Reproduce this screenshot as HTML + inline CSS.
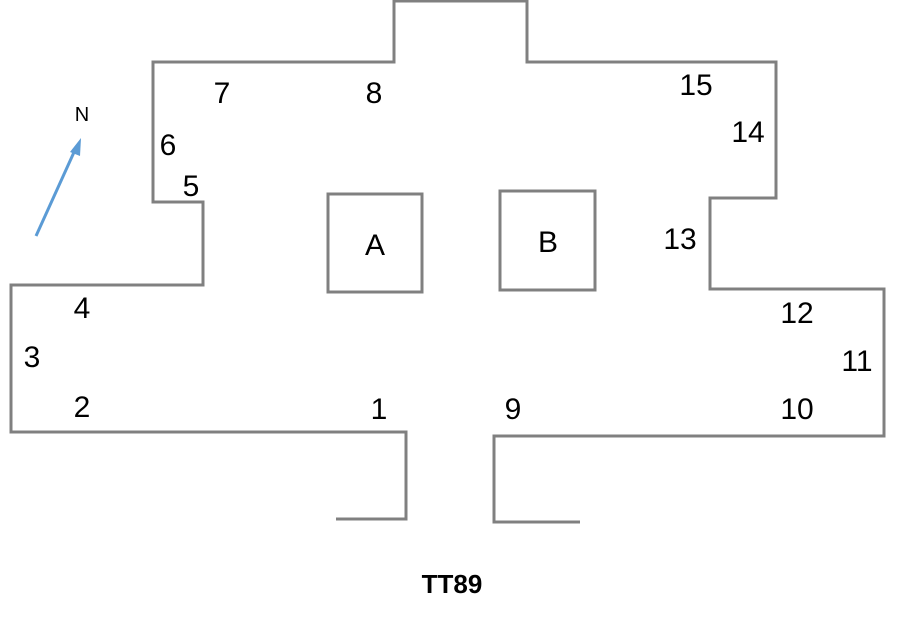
<!DOCTYPE html>
<html><head><meta charset="utf-8"><style>html,body{margin:0;padding:0;background:#fff}svg{display:block}text{font-family:"Liberation Sans",sans-serif;fill:#000}</style></head>
<body>
<svg width="900" height="623" viewBox="0 0 900 623" xmlns="http://www.w3.org/2000/svg">
<g fill="none" stroke="#808080" stroke-width="3">
<polyline points="336,519 406,519 406,432 11,432 11,285 203,285 203,202 153,202 153,62 394,62 394,1 527,1 527,62 776,62 776,198 710,198 710,289 884,289 884,436 494,436 494,522 580,522"/>
<rect x="328" y="194" width="94" height="98"/>
<rect x="500" y="191" width="95" height="99"/>
</g>
<line x1="36" y1="236" x2="75" y2="150" stroke="#5b9bd5" stroke-width="3"/>
<polygon points="81,138 70,152 80,156" fill="#5b9bd5"/>
<text x="82" y="121" font-size="20" text-anchor="middle">N</text>
<g font-size="30" text-anchor="middle">
<text x="375" y="255">A</text>
<text x="548" y="252">B</text>
<text x="379" y="419">1</text>
<text x="82" y="417">2</text>
<text x="32" y="367">3</text>
<text x="82" y="318">4</text>
<text x="191" y="196">5</text>
<text x="168" y="155">6</text>
<text x="222" y="103">7</text>
<text x="374" y="103">8</text>
<text x="513" y="419">9</text>
<text x="797" y="419">10</text>
<text x="857" y="371">11</text>
<text x="797" y="323">12</text>
<text x="680" y="249">13</text>
<text x="748" y="142">14</text>
<text x="696" y="95">15</text>
</g>
<text x="452" y="593" font-size="26" font-weight="bold" text-anchor="middle">TT89</text>
</svg>
</body></html>
